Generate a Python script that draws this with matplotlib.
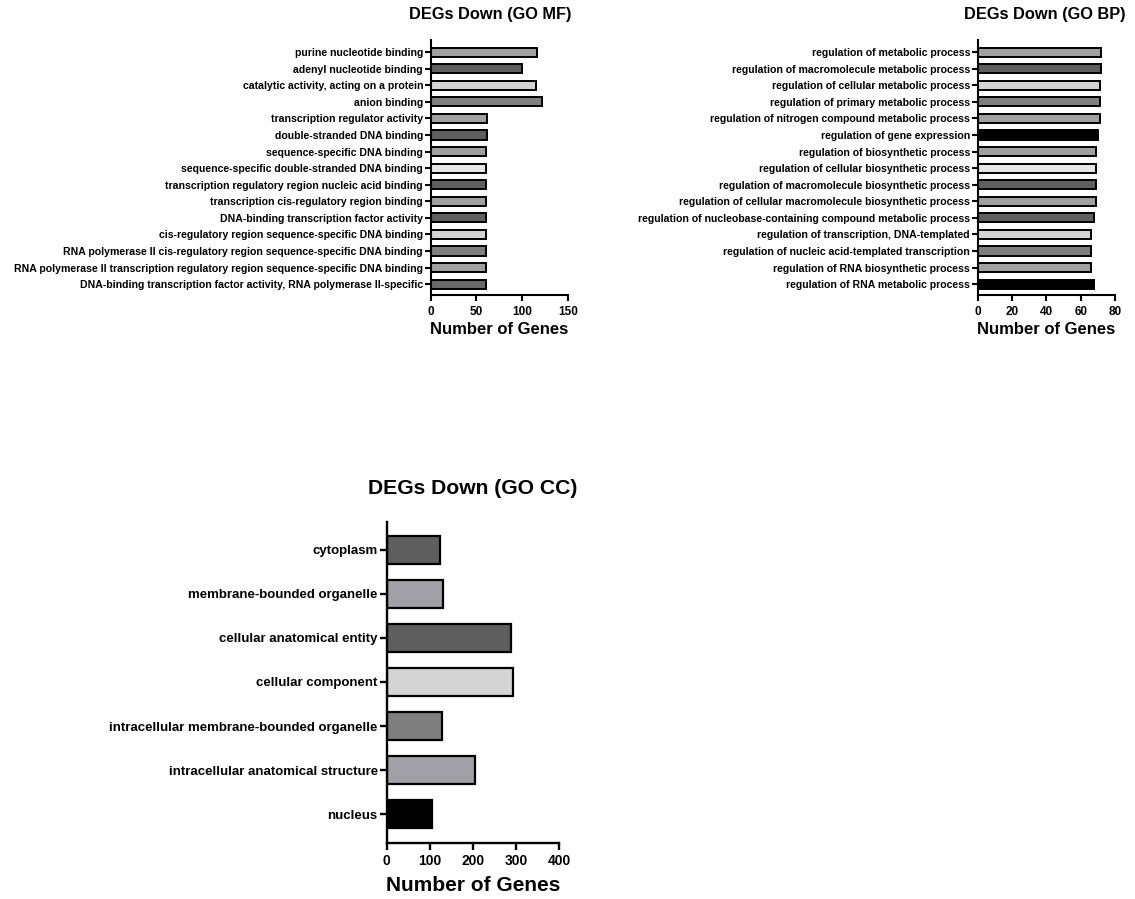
import matplotlib
matplotlib.use("Agg")
import matplotlib.pyplot as plt

plt.rcParams["font.family"] = ["Liberation Sans", "DejaVu Sans"]
plt.rcParams["font.weight"] = "bold"

W, H = 1135, 899
DPI = 100

# ---- GO Molecular Function ----
mf_terms = [
    "purine nucleotide binding",
    "adenyl nucleotide binding",
    "catalytic activity, acting on a protein",
    "anion binding",
    "transcription regulator activity",
    "double-stranded DNA binding",
    "sequence-specific DNA binding",
    "sequence-specific double-stranded DNA binding",
    "transcription regulatory region nucleic acid binding",
    "transcription cis-regulatory region binding",
    "DNA-binding transcription factor activity",
    "cis-regulatory region sequence-specific DNA binding",
    "RNA polymerase II cis-regulatory region sequence-specific DNA binding",
    "RNA polymerase II transcription regulatory region sequence-specific DNA binding",
    "DNA-binding transcription factor activity, RNA polymerase II-specific",
]
mf_counts = [116, 100, 115, 122, 62, 62, 61, 61, 61, 61, 61, 61, 61, 61, 61]
mf_colors = ["#a0a0a0", "#5f5f5f", "#d4d4d4", "#7f7f7f", "#a0a0a0",
             "#5f5f5f", "#a0a0a0", "#e6e6e6", "#5f5f5f", "#a0a0a0",
             "#5f5f5f", "#d4d4d4", "#7f7f7f", "#a0a0a0", "#6a6a6a"]
mf_ticks = [0, 50, 100, 150]

# ---- GO Biological Process ----
bp_terms = [
    "regulation of metabolic process",
    "regulation of macromolecule metabolic process",
    "regulation of cellular metabolic process",
    "regulation of primary metabolic process",
    "regulation of nitrogen compound metabolic process",
    "regulation of gene expression",
    "regulation of biosynthetic process",
    "regulation of cellular biosynthetic process",
    "regulation of macromolecule biosynthetic process",
    "regulation of cellular macromolecule biosynthetic process",
    "regulation of nucleobase-containing compound metabolic process",
    "regulation of transcription, DNA-templated",
    "regulation of nucleic acid-templated transcription",
    "regulation of RNA biosynthetic process",
    "regulation of RNA metabolic process",
]
bp_counts = [72, 72, 71, 71, 71, 70, 69, 69, 69, 69, 68, 66, 66, 66, 68]
bp_colors = ["#a0a0a0", "#5f5f5f", "#d4d4d4", "#7f7f7f", "#a0a0a0",
             "#000000", "#a0a0a0", "#e6e6e6", "#5f5f5f", "#a0a0a0",
             "#5f5f5f", "#d4d4d4", "#7f7f7f", "#a0a0a0", "#000000"]
bp_ticks = [0, 20, 40, 60, 80]

# ---- GO Cellular Component ----
cc_terms = [
    "cytoplasm",
    "membrane-bounded organelle",
    "cellular anatomical entity",
    "cellular component",
    "intracellular membrane-bounded organelle",
    "intracellular anatomical structure",
    "nucleus",
]
cc_counts = [124, 130, 288, 293, 127, 204, 104]
cc_colors = ["#5f5f5f", "#a0a0a6", "#5f5f5f", "#d4d4d4",
             "#7f7f7f", "#a0a0a6", "#000000"]
cc_ticks = [0, 100, 200, 300, 400]

fig = plt.figure(figsize=(W / DPI, H / DPI), dpi=DPI)


def px_axes(left, right, top, bottom):
    return fig.add_axes([left / W, 1 - bottom / H, (right - left) / W, (bottom - top) / H])


def bar_panel(ax, terms, counts, colors, ticks, bar_h, ylim, label_fs,
              tick_fs, xlabel_fs, spine_w, edge_w, tick_len, xpad, lpad):
    pos = list(range(len(terms)))
    ax.barh(pos, counts, height=bar_h, color=colors, edgecolor="black",
            linewidth=edge_w, zorder=2)
    ax.set_ylim(*ylim)
    ax.set_xlim(ticks[0], ticks[-1])
    ax.set_xticks(ticks)
    ax.set_yticks(pos)
    ax.set_yticklabels(terms, fontsize=label_fs, fontweight="bold")
    ax.set_xticklabels([str(t) for t in ticks], fontsize=tick_fs, fontweight="bold")
    for s in ("top", "right"):
        ax.spines[s].set_visible(False)
    for s in ("left", "bottom"):
        ax.spines[s].set_linewidth(spine_w)
    ax.tick_params(axis="both", width=spine_w, length=tick_len, direction="out")
    ax.tick_params(axis="y", pad=1.5)
    ax.tick_params(axis="x", pad=xpad)
    ax.set_xlabel("Number of Genes", fontsize=xlabel_fs, fontweight="bold", labelpad=lpad)
    ax.patch.set_alpha(0)


ax_mf = px_axes(430.7, 567.7, 40, 295)
bar_panel(ax_mf, mf_terms, mf_counts, mf_colors, mf_ticks, 0.55, (14.66, -0.74),
          7.6, 8.5, 12, 1.5, 1.4, 4, 4, 3)
fig.text(490 / W, 1 - 15 / H, "DEGs Down (GO MF)", ha="center", va="center",
         fontsize=11.8, fontweight="bold")

ax_bp = px_axes(977.7, 1115, 40, 295)
bar_panel(ax_bp, bp_terms, bp_counts, bp_colors, bp_ticks, 0.55, (14.66, -0.74),
          7.6, 8.5, 12, 1.5, 1.4, 4, 4, 3)
fig.text(1045 / W, 1 - 15 / H, "DEGs Down (GO BP)", ha="center", va="center",
         fontsize=11.8, fontweight="bold")

ax_cc = px_axes(386.7, 559.3, 521.7, 842.7)
bar_panel(ax_cc, cc_terms, cc_counts, cc_colors, cc_ticks, 0.62, (6.65, -0.64),
          9.5, 10, 15, 1.7, 1.6, 5, 3, 6)
fig.text(473 / W, 1 - 488 / H, "DEGs Down (GO CC)", ha="center", va="center",
         fontsize=15.2, fontweight="bold")

fig.savefig("out.png", dpi=DPI)
